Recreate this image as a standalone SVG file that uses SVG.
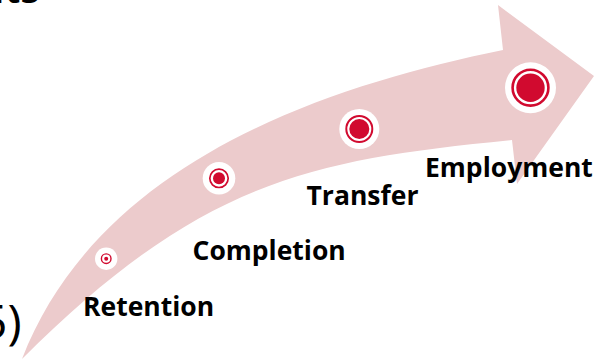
<svg xmlns="http://www.w3.org/2000/svg" width="597" height="361" viewBox="0 0 597 361">
  <style>
    .band { fill: #ECCBCC; }
    .halo { fill: #FFFFFF; }
    .ring { fill: none; stroke: #D10A2F; }
    .dot { fill: #D10A2F; }
    .label { font-family: "Open Sans", "Liberation Sans", sans-serif; font-weight: 700; font-size: 26.5px; fill: #000000; }
    .frag { font-family: "Open Sans", "Liberation Sans", sans-serif; fill: #000000; }
  </style>
  <rect width="597" height="361" fill="#FFFFFF"/>
  <text class="frag" x="-21" y="3" font-size="40" font-weight="600">nts</text>
  <text class="frag" x="-20" y="339" font-size="48" font-weight="400">5)</text>
  <g id="connectors">
    <path class="band" d="M22,359 C97,165 317,88 503,50 L498,5 L594,76 L517,184 L512,140 C312,160 202,179 22,359 Z"/>
  </g>
  <g id="retention">
    <circle class="halo" cx="106.2" cy="258.7" r="11.2"/>
    <circle class="ring" cx="106.2" cy="258.7" r="4.8" stroke-width="1.4"/>
    <circle class="dot" cx="106.2" cy="258.7" r="2"/>
    <text class="label" x="83" y="316">Retention</text>
  </g>
  <g id="completion">
    <circle class="halo" cx="219" cy="178.3" r="16.3"/>
    <circle class="ring" cx="219" cy="178.3" r="9.2" stroke-width="1.7"/>
    <circle class="dot" cx="219" cy="178.3" r="6"/>
    <text class="label" x="192.5" y="260">Completion</text>
  </g>
  <g id="transfer">
    <circle class="halo" cx="359.3" cy="129" r="20"/>
    <circle class="ring" cx="359.3" cy="129" r="13" stroke-width="2"/>
    <circle class="dot" cx="359.3" cy="129" r="10"/>
    <text class="label" x="306.5" y="205">Transfer</text>
  </g>
  <g id="employment">
    <circle class="halo" cx="530.5" cy="87.7" r="25.5"/>
    <circle class="ring" cx="530.5" cy="87.7" r="17.9" stroke-width="2.6"/>
    <circle class="dot" cx="530.5" cy="87.7" r="14.2"/>
    <text class="label" x="425" y="176.7">Employment</text>
  </g>
</svg>
